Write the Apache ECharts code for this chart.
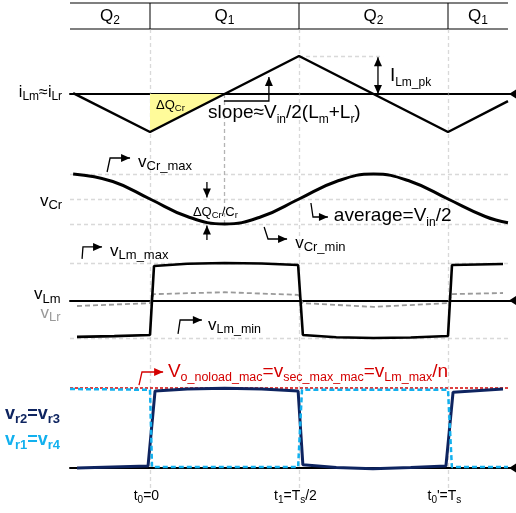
<!DOCTYPE html>
<html><head><meta charset="utf-8">
<script src="https://cdn.jsdelivr.net/npm/echarts@6/dist/echarts.min.js"></script>
<style>html,body{margin:0;padding:0;background:#fff}#c{width:516px;height:513px}</style>
</head><body><div id="c"></div>
<script>
// ---- time axis: 0 = t0, 1 = Ts ----
const X_MIN = -0.2685, X_MAX = 1.2282, X_END = 1.2013;
const phaseEdges = [-0.2685, 0, 0.5, 1, 1.2013];
const phaseLabels = ['{m|Q}{s|2}', '{m|Q}{s|1}', '{m|Q}{s|2}', '{m|Q}{s|1}'];
const timeTicks = [0, 0.5, 1];
const timeTickLabels = ['{m|t}{s|0}{m|=0}', '{m|t}{s|1}{m|=T}{s|s}{m|/2}', "{m|t}{s|0}{m|'=T}{s|s}"];

// ---- waveforms (normalised units) ----
const iLm = [[-0.258, 0.02], [0, -1], [0.5, 1], [1, -1], [1.2013, -0.19]];
const dQArea = [[0, -1], [0.25, 0]];
const vCr = [[-0.258, 1], [-0.125, 0.7], [0, 0], [0.125, -0.7], [0.25, -1], [0.375, -0.7], [0.5, 0],
             [0.625, 0.7], [0.75, 1], [0.875, 0.7], [1, 0], [1.125, -0.7], [1.2013, -0.95]];
const vCrLevels = [1, 0, -1];
const vLm = [[-0.245, -0.97], [-0.12, -0.95], [0, -0.92], [0.0134, 0.92], [0.125, 0.98], [0.25, 1.0], [0.375, 0.985],
             [0.497, 0.947], [0.513, -0.92], [0.625, -0.98], [0.75, -1.0], [0.875, -0.985], [1.0, -0.947],
             [1.0134, 0.947], [1.1846, 0.973]];
const vLmLevels = [1, -1];
const vLr = [[-0.245, -0.147], [0, -0.07], [0.012, 0.17], [0.25, 0.22], [0.497, 0.15], [0.513, -0.07],
             [0.75, -0.17], [1.0, -0.07], [1.013, 0.17], [1.1846, 0.2]];
const vr23 = [[-0.245, 0], [-0.0067, 0.025], [0.017, 0.975], [0.125, 1.0], [0.25, 1.01], [0.375, 1.0],
              [0.497, 0.975], [0.513, 0.04], [0.625, 0.005], [0.748, -0.01], [0.875, 0.005], [0.993, 0.025],
              [1.017, 0.96], [1.1846, 1.0]];
const vr14 = [[-0.2685, 1.0], [0, 0.99], [0.0067, 0.013], [0.497, 0.013], [0.51, 0.99], [1.0, 0.99],
              [1.013, 0.013], [1.2013, 0.013]];
const vNoload = [[-0.2685, 1.013], [1.208, 1.013]];
const iPeakGuide = [[0.5, 1], [0.782, 1]];

const FONT = "'Liberation Sans', Arial, sans-serif";
const GRAY = '#b3b3b3', NAVY = '#0e2460', LBLUE = '#12b0ee', RED = '#d40000';

const gridBoxes = [
  {top: 3, height: 26},      // 0 table
  {top: 37, height: 114},    // 1 current
  {top: 149, height: 100},   // 2 vCr
  {top: 244.25, height: 112.5}, // 3 vLm
  {top: 357.4, height: 126.4},  // 4 vr
  {top: 29, height: 459}     // 5 overlay for phase lines
];
const yRanges = [[0, 1], [-1.5, 1.5], [-2, 2], [-1.5, 1.5], [-0.2, 1.4], [0, 1]];
const axisShown = [false, true, false, true, true, false];

const grid = gridBoxes.map(b => ({left: 70, width: 446, top: b.top, height: b.height}));
const xAxis = gridBoxes.map((b, i) => ({
  type: 'value', gridIndex: i, min: X_MIN, max: X_MAX,
  axisLabel: {show: false}, axisTick: {show: false}, splitLine: {show: false},
  axisLine: {show: axisShown[i], onZero: true, lineStyle: {color: '#000', width: 2}}
}));
const yAxis = gridBoxes.map((b, i) => ({
  type: 'value', gridIndex: i, min: yRanges[i][0], max: yRanges[i][1], show: false
}));

function seg(g, coords, style, z) {
  return {type: 'lines', coordinateSystem: 'cartesian2d', xAxisIndex: g, yAxisIndex: g, polyline: false,
          silent: true, z: z || 1, clip: false, lineStyle: style, data: coords.map(c => ({coords: c}))};
}
function wave(g, data, style, extra) {
  return Object.assign({type: 'line', xAxisIndex: g, yAxisIndex: g, data, symbol: 'none', clip: false,
          silent: true, animation: false, lineStyle: style}, extra || {});
}
const dashG = {color: GRAY, width: 1.3, type: [4, 3]};

const series = [
  seg(0, [[[phaseEdges[0], 1], [phaseEdges[4], 1]], [[phaseEdges[0], 0], [phaseEdges[4], 0]]]
        .concat(phaseEdges.slice(1, 4).map(t => [[t, 0], [t, 1]])), {color: '#000', width: 2}),
  seg(5, timeTicks.map(t => [[t, 0], [t, 1]]), dashG),
  wave(1, dQArea, {width: 0}, {areaStyle: {color: '#fffb9a', opacity: 1}, z: 1}),
  seg(1, [iPeakGuide], dashG),
  wave(1, iLm, {color: '#000', width: 2.5}, {z: 3}),
  seg(2, vCrLevels.map(v => [[X_MIN, v], [X_END, v]]), dashG),
  wave(2, vCr, {color: '#000', width: 3}, {smooth: 0.45, z: 3}),
  seg(3, vLmLevels.map(v => [[X_MIN, v], [X_END, v]]), dashG),
  wave(3, vLr, {color: '#9a9a9a', width: 1.8, type: [5, 3]}, {z: 2}),
  wave(3, vLm, {color: '#000', width: 2.6}, {z: 3}),
  wave(4, vNoload, {color: RED, width: 1.6, type: [3, 2]}, {z: 2}),
  wave(4, vr23, {color: NAVY, width: 3}, {z: 3}),
  wave(4, vr14, {color: LBLUE, width: 2.5, type: [5, 3]}, {z: 4})
];

const chart = echarts.init(document.getElementById('c'));
chart.setOption({animation: false, backgroundColor: '#fff', grid, xAxis, yAxis, series});

// ---- annotations (data units of each grid) ----
function R(F, S, color, bold) {
  const w = bold ? 'bold' : 'normal';
  const L = Math.round(F * 1.3);
  const d = Math.max(0, 0.55 * F - 0.35 * S);
  return {
    m: {fontSize: F, fontFamily: FONT, fontWeight: w, fill: color, lineHeight: L},
    s: {fontSize: S, fontFamily: FONT, fontWeight: w, fill: color, lineHeight: L, padding: [2 * d, 0, 0, 0]}
  };
}
const texts = [
  // grid, pos, text, align, F, S, color, bold
  [1, [-0.295, 0.05], '{m|i}{s|Lm}{m|≈i}{s|Lr}', 'right', 16, 12, '#000'],
  [1, [0.02, -0.29], '{m|ΔQ}{s|Cr}', 'left', 13, 9.5, '#000'],
  [1, [0.195, -0.5], '{m|slope≈V}{s|in}{m|/2(L}{s|m}{m|+L}{s|r}{m|)}', 'left', 19, 12, '#000'],
  [1, [0.805, 0.47], '{m|I}{s|Lm_pk}', 'left', 19, 12, '#000'],
  [2, [-0.295, -0.08], '{m|v}{s|Cr}', 'right', 17, 13, '#000'],
  [2, [-0.04, 1.48], '{m|v}{s|Cr_max}', 'left', 17, 13, '#000'],
  [2, [0.144, -0.52], '{m|ΔQ}{s|Cr}{m|/C}{s|r}', 'left', 13, 9.5, '#000'],
  [2, [0.487, -1.76], '{m|v}{s|Cr_min}', 'left', 17, 13, '#000'],
  [2, [0.617, -0.68], '{m|average=V}{s|in}{m|/2}', 'left', 19, 12, '#000'],
  [3, [-0.30, 0.17], '{m|v}{s|Lm}', 'right', 17, 13, '#000'],
  [3, [-0.30, -0.33], '{m|v}{s|Lr}', 'right', 17, 13, '#999'],
  [3, [-0.134, 1.32], '{m|v}{s|Lm_max}', 'left', 17, 13, '#000'],
  [3, [0.195, -0.65], '{m|v}{s|Lm_min}', 'left', 17, 12.5, '#000'],
  [4, [0.06, 1.22], '{m|V}{s|o_noload_mac}{m|=v}{s|sec_max_mac}{m|=v}{s|Lm_max}{m|/n}', 'left', 19, 12.5, RED],
  [4, [-0.487, 0.68], '{m|v}{s|r2}{m|=v}{s|r3}', 'left', 18, 13, NAVY, true],
  [4, [-0.487, 0.35], '{m|v}{s|r1}{m|=v}{s|r4}', 'left', 18, 13, LBLUE, true]
];
phaseLabels.forEach((s, i) => texts.push([0, [(phaseEdges[i] + phaseEdges[i + 1]) / 2, 0.5], s, 'center', 17, 12, '#000']));
timeTickLabels.forEach((s, i) => texts.push([4, [timeTicks[i] - 0.012, -0.354], s, 'center', 14, 10, '#000']));

const arrows = [
  // grid, points, both ends?, color
  [1, [[0.248, -0.184], [0.399, -0.184], [0.399, 0.45]], false, '#000'],
  [1, [[0.765, 0.0], [0.765, 0.97]], true, '#000'],
  [2, [[-0.144, 1.08], [-0.134, 1.64], [-0.067, 1.64]], false, '#000'],
  [2, [[0.191, 0.68], [0.191, 0.06]], false, '#000'],
  [2, [[0.191, -1.64], [0.191, -1.06]], false, '#000'],
  [2, [[0.383, -1.12], [0.396, -1.6], [0.46, -1.6]], false, '#000'],
  [2, [[0.54, -0.16], [0.547, -0.72], [0.597, -0.72]], false, '#000'],
  [3, [[-0.228, 1.11], [-0.225, 1.43], [-0.161, 1.43]], false, '#000'],
  [3, [[0.094, -0.89], [0.101, -0.52], [0.174, -0.52]], false, '#000'],
  [4, [[-0.037, 1.05], [-0.027, 1.215], [0.044, 1.215]], false, RED]
];

const P = (g, p) => chart.convertToPixel({gridIndex: g}, p);
function head(tip, from, color) {
  const dx = tip[0] - from[0], dy = tip[1] - from[1];
  const l = Math.hypot(dx, dy) || 1, ux = dx / l, uy = dy / l;
  const L = 9, W = 4;
  const bx = tip[0] - ux * L, by = tip[1] - uy * L;
  return {type: 'polygon', silent: true, z: 10,
    shape: {points: [tip, [bx - uy * W, by + ux * W], [bx + uy * W, by - ux * W]]}, style: {fill: color}};
}
const graphics = [];
arrows.forEach(([g, pts, both, color]) => {
  const px = pts.map(p => P(g, p));
  graphics.push({type: 'polyline', silent: true, z: 10, shape: {points: px},
    style: {stroke: color, lineWidth: 1.3, fill: null}});
  graphics.push(head(px[px.length - 1], px[px.length - 2], color));
  if (both) graphics.push(head(px[0], px[1], color));
});
texts.forEach(([g, p, s, align, F, S, color, bold]) => {
  const q = P(g, p);
  graphics.push({type: 'text', silent: true, z: 10, x: q[0], y: q[1],
    style: {text: s, rich: R(F, S, color, bold), align, textAlign: align, verticalAlign: 'middle',
            textVerticalAlign: 'middle', fill: color, fontFamily: FONT, fontSize: F}});
});
// quarter-period guide from iLm zero crossing down to vCr minimum
const qa = P(1, [0.25, 0]), qb = P(2, [0.25, -1]);
graphics.push({type: 'line', silent: true, z: 0, shape: {x1: qa[0], y1: qa[1], x2: qb[0], y2: qb[1]},
  style: {stroke: GRAY, lineWidth: 1.3, lineDash: [4, 3]}});
// axis end markers
[1, 3, 4].forEach(g => {
  const e = P(g, [X_MAX, 0]);
  graphics.push({type: 'polygon', silent: true, z: 10,
    shape: {points: [[e[0] - 7, e[1]], [e[0], e[1] - 4.5], [e[0], e[1] + 4.5]]}, style: {fill: '#000'}});
});
chart.setOption({graphic: graphics});
</script></body></html>
